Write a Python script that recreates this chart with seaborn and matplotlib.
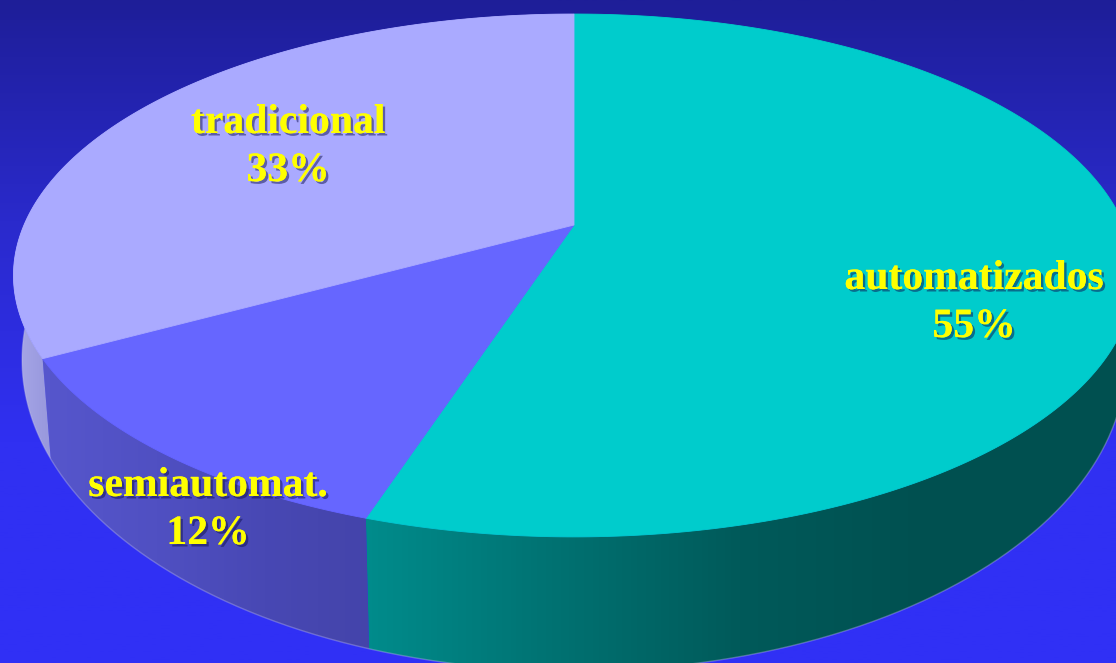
import numpy as np
import matplotlib
matplotlib.use("Agg")
import matplotlib.pyplot as plt
import matplotlib.patheffects as pe
from matplotlib.patches import Polygon
import seaborn as sns

# Shares of each production system, clockwise from twelve o'clock
categories = ["automatizados", "semiautomat.", "tradicional"]
shares = [55, 12, 33]

face_colors = ["#00CCCC", "#6666FF", "#AAAAFF"]
side_ramps = [
    ["#008C8C", "#007272", "#005A5A", "#005050", "#005050"],
    ["#5656CC", "#5050C2", "#4848B4", "#4444AA"],
    ["#A8A8E8", "#9C9CE0", "#9494D8"],
]
side_spans = [(363, 1116), (48, 372), (15, 62)]
label_anchors = [(974, 279), (208, 486), (288, 123)]

WIDTH, HEIGHT = 1116, 663
CENTER_X = 574.0
TILT = 0.193
TOP_RIM = dict(cy=225.0, ax=550.0, ay=251.7)
LOW_RIM = dict(cy=300.0, ax=541.6, ay=299.4)

sns.set_theme(style="white")
plt.rcParams["font.family"] = ["Liberation Serif", "DejaVu Serif"]


def project(theta, rim):
    """Perspective view of a point on a disc; theta runs clockwise from the back."""
    u, v = np.sin(theta), np.cos(theta)
    w = 1 + TILT * v
    return np.column_stack([CENTER_X + rim["ax"] * u / w, rim["cy"] - rim["ay"] * v / w])


fig = plt.figure(figsize=(WIDTH / 100, HEIGHT / 100), dpi=100)
ax = fig.add_axes([0, 0, 1, 1])
ax.set_xlim(0, WIDTH)
ax.set_ylim(HEIGHT, 0)
ax.axis("off")

# Backdrop fading from navy to vivid blue
backdrop = sns.blend_palette(["#1E1E98", "#2A2ACC", "#3030F2", "#3030F6"], as_cmap=True)
ax.imshow(np.linspace(0, 1, 256)[:, None], cmap=backdrop, aspect="auto",
          extent=(0, WIDTH, HEIGHT, 0), zorder=0)

edges = 2 * np.pi * np.concatenate([[0], np.cumsum(shares)]) / np.sum(shares)

# Outer wall of every slice, shaded horizontally
for i in range(len(shares)):
    t = np.linspace(edges[i], edges[i + 1], 300)
    outline = np.vstack([project(t, TOP_RIM), project(t[::-1], LOW_RIM)])
    wall = Polygon(outline, closed=True, fc="none", ec="none", zorder=1)
    ax.add_patch(wall)
    x0, x1 = side_spans[i]
    ramp = sns.blend_palette(side_ramps[i], as_cmap=True)
    xs = np.clip((np.arange(WIDTH) - x0) / (x1 - x0), 0, 1)
    shade = ax.imshow(xs[None, :], cmap=ramp, vmin=0, vmax=1, aspect="auto",
                      extent=(0, WIDTH, HEIGHT, 0), zorder=1)
    shade.set_clip_path(wall)

# Pale glint along the lower rim
t = np.linspace(edges[0], edges[-1], 800)
rim = project(t, LOW_RIM)
ax.plot(rim[:, 0], rim[:, 1], color="#C8C8E8", lw=1.0, alpha=0.35, zorder=2)

ax.set_xlim(0, WIDTH)
ax.set_ylim(HEIGHT, 0)

# Top faces drawn over the walls
apex = np.array([[CENTER_X, TOP_RIM["cy"]]])
for i, color in enumerate(sns.color_palette(face_colors)):
    t = np.linspace(edges[i], edges[i + 1], 400)
    ax.add_patch(Polygon(np.vstack([apex, project(t, TOP_RIM)]), closed=True,
                         fc=color, ec=color, lw=0.6, zorder=3))

# Yellow bold captions with a soft drop shadow
shadow = [pe.withSimplePatchShadow(offset=(1.8, -1.8), shadow_rgbFace="#101050", alpha=0.5), pe.Normal()]
for name, share, (x, y) in zip(categories, shares, label_anchors):
    ax.text(x, y, name, ha="center", va="center", color="#FFFF00", fontsize=30,
            fontweight="bold", path_effects=shadow, zorder=4)
    ax.text(x, y + 48, f"{share}%", ha="center", va="center", color="#FFFF00", fontsize=30,
            fontweight="bold", path_effects=shadow, zorder=4)

fig.savefig("out.png", dpi=100)
